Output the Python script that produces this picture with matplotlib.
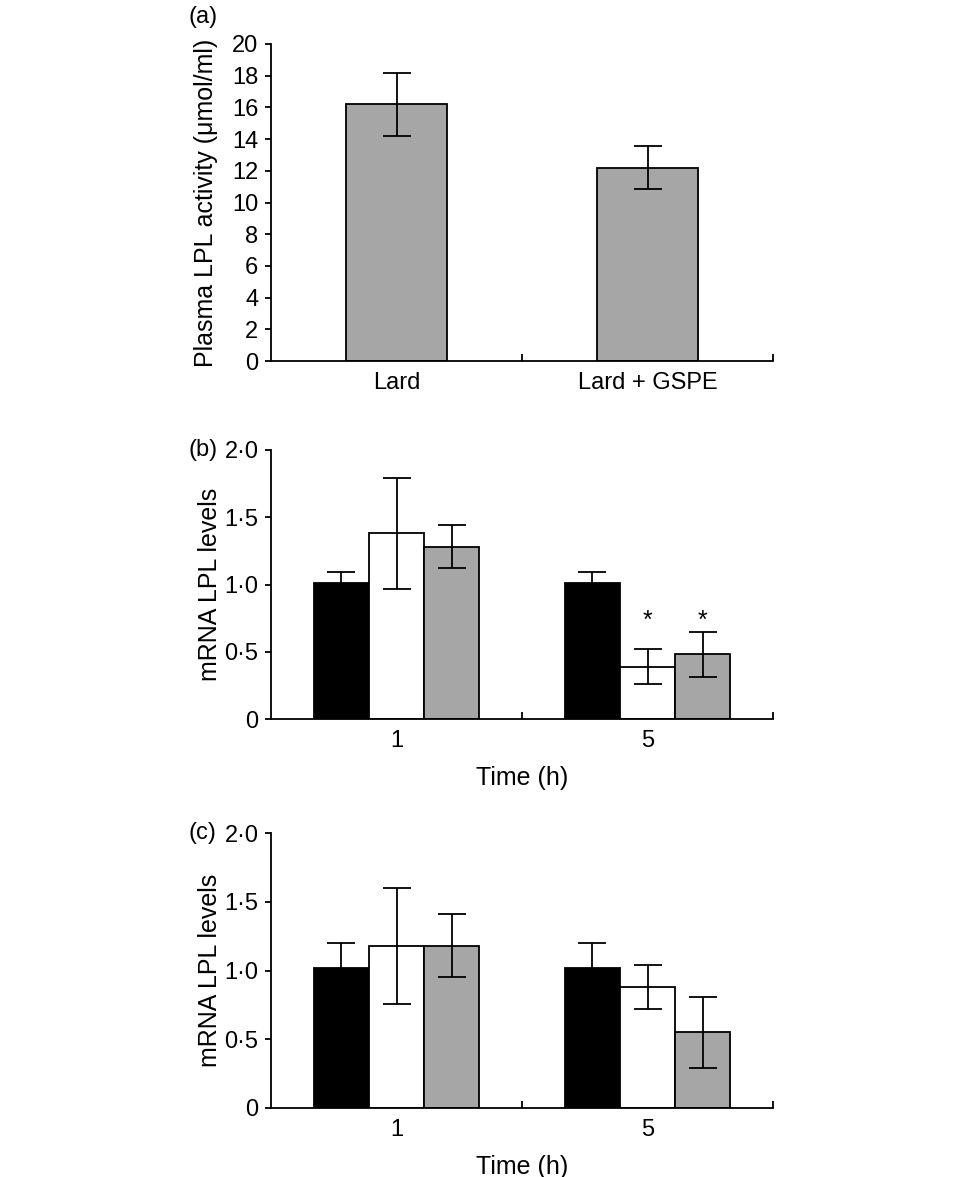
import numpy as np
import matplotlib
matplotlib.use('Agg')
import matplotlib.pyplot as plt
from matplotlib.ticker import FuncFormatter

plt.rcParams['font.family'] = ['Liberation Sans', 'DejaVu Sans']
plt.rcParams['font.size'] = 17

# panel (a)
diets = ['Lard', 'Lard + GSPE']
lpl_activity = [16.2, 12.2]
lpl_activity_err = [2.0, 1.35]

# panels (b) and (c)
times = ['1', '5']
b_black = [1.01, 1.01]
b_black_err = [0.08, 0.08]
b_white = [1.38, 0.39]
b_white_err = [0.41, 0.13]
b_grey = [1.28, 0.48]
b_grey_err = [0.16, 0.165]
b_stars = ['', '*']

c_black = [1.02, 1.02]
c_black_err = [0.18, 0.18]
c_white = [1.18, 0.88]
c_white_err = [0.42, 0.16]
c_grey = [1.18, 0.55]
c_grey_err = [0.23, 0.26]

GREY = '#a6a6a6'
W, H = 960, 1177
fig = plt.figure(figsize=(W / 100, H / 100), dpi=100)
fig.patch.set_facecolor('white')


def add_ax(top, bottom, left=271, right=773):
    return fig.add_axes([left / W, (H - bottom) / H, (right - left) / W, (bottom - top) / H])


def style(ax, labels):
    ax.spines['top'].set_visible(False)
    ax.spines['right'].set_visible(False)
    for s in ['left', 'bottom']:
        ax.spines[s].set_linewidth(1.3)
    ax.set_xlim(0, 2)
    ax.set_xticks([1, 2])
    ax.set_xticklabels([])
    ax.tick_params(axis='x', which='major', direction='in', length=5, width=1.3)
    ax.set_xticks([0.5, 1.5], minor=True)
    ax.set_xticklabels(labels, minor=True)
    ax.tick_params(axis='x', which='minor', length=0, pad=8)
    ax.tick_params(axis='y', direction='out', length=4, width=1.3, pad=5)


ekw = dict(fmt='none', ecolor='black', elinewidth=1.3, capsize=10, capthick=1.3, zorder=3)

# (a)
ax = add_ax(44, 361)
x = np.array([0.5, 1.5])
ax.bar(x, lpl_activity, width=0.4, color=GREY, edgecolor='black', linewidth=1.3, zorder=2)
ax.errorbar(x, lpl_activity, yerr=lpl_activity_err, **ekw)
ax.set_ylim(0, 20)
ax.set_yticks(np.arange(0, 21, 2))
style(ax, diets)
ax.set_ylabel('Plasma LPL activity (\u03bcmol/ml)', fontsize=18, labelpad=10)
fig.text(188 / W, 1 - 17 / H, '(a)', va='center', ha='left')


def grouped(top, bottom, black, black_err, white, white_err, grey, grey_err, tag, stars=None):
    ax = add_ax(top, bottom)
    w = 0.22
    for off, vals, errs, col in [(-w, black, black_err, 'black'), (0, white, white_err, 'white'),
                                 (w, grey, grey_err, GREY)]:
        ax.bar(x + off, vals, width=w, color=col, edgecolor='black', linewidth=1.3, zorder=2)
        ax.errorbar(x + off, vals, yerr=errs, **ekw)
        if stars is not None:
            for xi, s in zip(x + off, stars):
                if s and off != -w:
                    ax.text(xi, 0.73, s, ha='center', va='center', fontsize=18)
    ax.set_ylim(0, 2)
    ax.set_yticks([0, 0.5, 1.0, 1.5, 2.0])
    ax.yaxis.set_major_formatter(FuncFormatter(lambda v, p: '0' if v == 0 else f'{v:.1f}'.replace('.', '\u00b7')))
    style(ax, times)
    ax.set_ylabel('mRNA LPL levels', fontsize=18, labelpad=2)
    ax.set_xlabel('Time (h)', fontsize=18, labelpad=10)
    fig.text(188 / W, 1 - top / H, tag, va='center', ha='left')
    return ax


grouped(450, 719, b_black, b_black_err, b_white, b_white_err, b_grey, b_grey_err, '(b)', b_stars)
grouped(833, 1108, c_black, c_black_err, c_white, c_white_err, c_grey, c_grey_err, '(c)')

fig.savefig('out.png', dpi=100)
